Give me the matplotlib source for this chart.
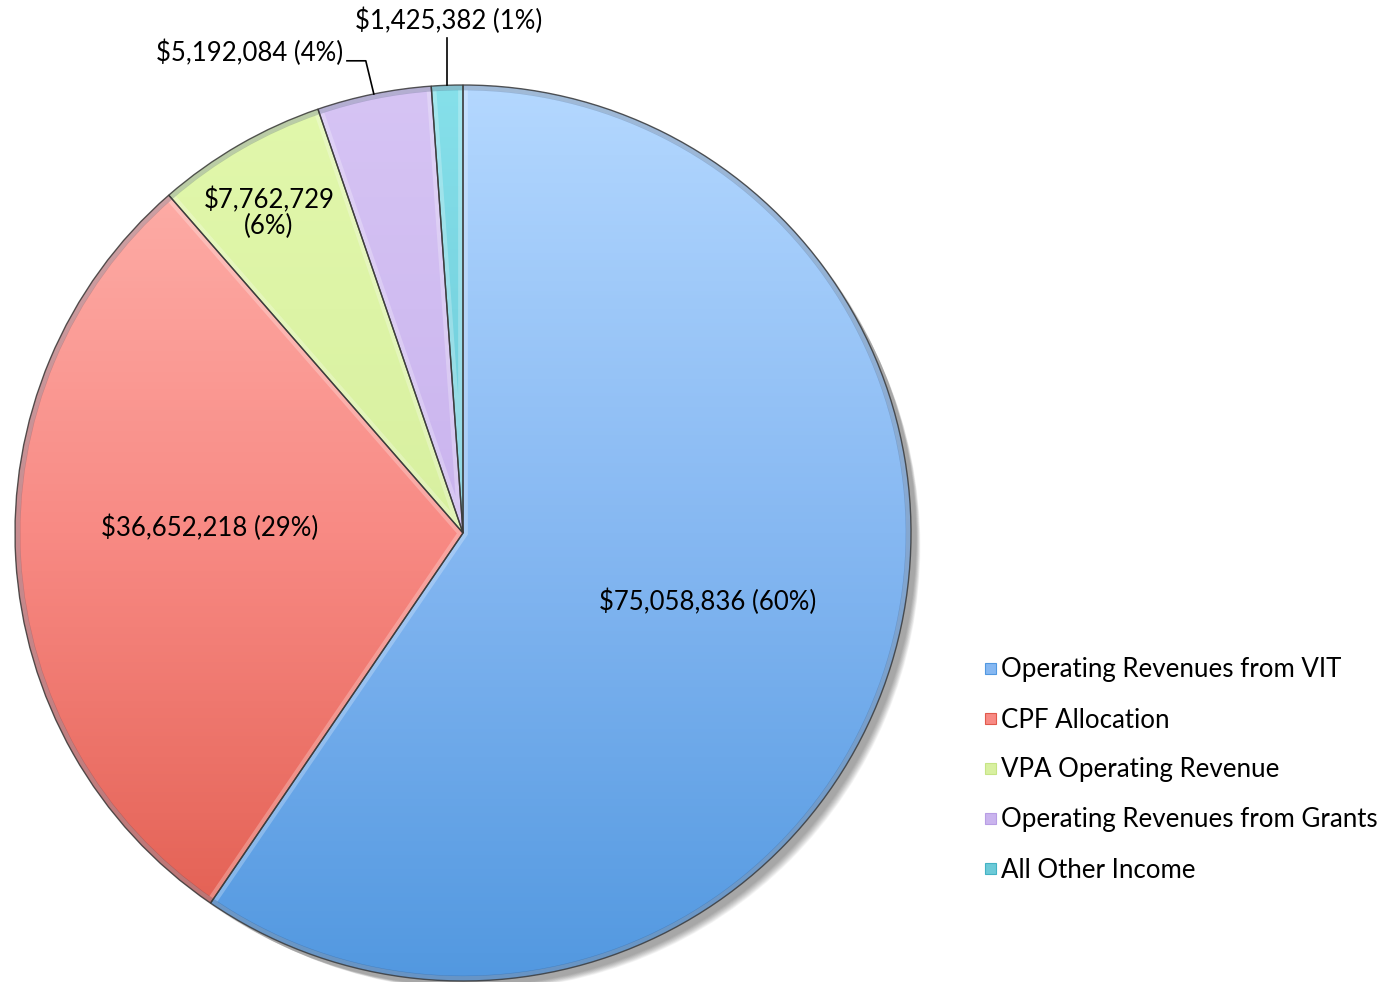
import numpy as np
import matplotlib
matplotlib.use("Agg")
import matplotlib.pyplot as plt
from matplotlib.colors import LinearSegmentedColormap
from matplotlib.patches import Wedge, Circle, Rectangle

categories = ["Operating Revenues from VIT", "CPF Allocation", "VPA Operating Revenue",
              "Operating Revenues from Grants", "All Other Income"]
values = [75058836, 36652218, 7762729, 5192084, 1425382]
percents = ["60%", "29%", "6%", "4%", "1%"]

top_colors = ["#b4d8ff", "#ffb6b0", "#e2f8ac", "#d6c4f4", "#86e0ea"]
bot_colors = ["#5298e0", "#e05a4c", "#c6e486", "#b89ee4", "#44b2c4"]
mid_colors = ["#86b8f2", "#f88a84", "#d8f0a0", "#cab4ee", "#6ccad8"]

plt.rcParams['font.family'] = ['Lato', 'DejaVu Sans']

W, H = 1393, 982
fig = plt.figure(figsize=(W / 100, H / 100), dpi=100)
cx, cy, R = 463, 533, 448
ax = fig.add_axes([(cx - R) / W, (H - cy - R) / H, 2 * R / W, 2 * R / H])

# soft shadow toward bottom-right
for k in range(10):
    s = Circle((0.012 + 0.002 * k, -0.012 - 0.002 * k), 1.0 - 0.001 * k, facecolor="#000000",
               alpha=0.04, edgecolor="none", zorder=0, clip_on=False)
    ax.add_patch(s)

wedges, _ = ax.pie(values, startangle=90, counterclock=False, radius=1,
                   colors=mid_colors, wedgeprops=dict(edgecolor="none", zorder=1))

grad = np.linspace(1, 0, 256).reshape(-1, 1)
for i, w in enumerate(wedges):
    w.set_clip_on(False)
    cmap = LinearSegmentedColormap.from_list("g%d" % i, [bot_colors[i], mid_colors[i], top_colors[i]])
    im = ax.imshow(grad, extent=(-1, 1, -1, 1), cmap=cmap, aspect="auto",
                   origin="upper", zorder=2, vmin=0, vmax=1)
    im.set_clip_path(w)
    # bevel highlight
    hl = Wedge((0, 0), 1, w.theta1, w.theta2, facecolor="none",
               edgecolor="white", lw=7, alpha=0.25, zorder=3)
    ax.add_patch(hl)
    hl.set_clip_path(w)
    # dark outer shade
    sh = Wedge((0, 0), 1, w.theta1, w.theta2, width=0.012, facecolor="#1a3050",
               edgecolor="none", alpha=0.22, zorder=3)
    ax.add_patch(sh)
    ol = Wedge((0, 0), 1, w.theta1, w.theta2, facecolor="none",
               edgecolor="#3a3a3a", lw=1.0, alpha=0.85, zorder=4, clip_on=False)
    ax.add_patch(ol)

ax.set_xlim(-1, 1)
ax.set_ylim(-1, 1)
ax.set_aspect("equal")
ax.axis("off")

def money(v):
    return "${:,}".format(v)

fs = 18.5
ax.text(0.545, -0.154, "%s (%s)" % (money(values[0]), percents[0]), ha="center", va="center", fontsize=fs, zorder=5)
ax.text(-0.565, 0.011, "%s (%s)" % (money(values[1]), percents[1]), ha="center", va="center", fontsize=fs, zorder=5)
ax.text(-0.433, 0.714, "%s\n(%s)" % (money(values[2]), percents[2]), ha="center", va="center",
        fontsize=fs, linespacing=1.0, zorder=5)

# outside labels with leader lines
mids = [np.deg2rad((w.theta1 + w.theta2) / 2) for w in wedges]
p = mids[3]
px, py = np.cos(p), np.sin(p)
ax.plot([-0.259, -0.217, px], [1.054, 1.054, py], color="black", lw=1.2, clip_on=False, zorder=5)
ax.text(-0.268, 1.071, "%s (%s)" % (money(values[3]), percents[3]), ha="right", va="center",
        fontsize=fs, clip_on=False)
c = mids[4]
qx, qy = np.cos(c), np.sin(c)
ax.plot([qx, qx], [qy, 1.105], color="black", lw=1.2, clip_on=False, zorder=5)
ax.text(-0.031, 1.143, "%s (%s)" % (money(values[4]), percents[4]), ha="center", va="center",
        fontsize=fs, clip_on=False)

# legend
for i, lab in enumerate(categories):
    ypix = 668 + 50 * i
    r = Rectangle((985 / W, (H - ypix - 6) / H), 11 / W, 11 / H, transform=fig.transFigure,
                  facecolor=mid_colors[i], edgecolor=bot_colors[i], lw=0.8)
    fig.patches.append(r)
    fig.text(1001 / W, (H - ypix - 2) / H, lab, ha="left", va="center", fontsize=18.6)

fig.savefig("out.png", dpi=100)
